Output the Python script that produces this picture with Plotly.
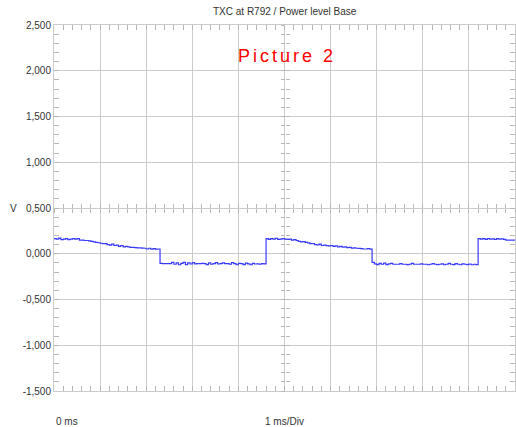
import numpy as np
import plotly.graph_objects as go

# Scope capture: TXC at R792, sampled every 0.05 ms over 10 divisions (1 ms/Div)
SAMPLE_MS = 0.05

# high phase 1 (0.00 .. 2.25 ms)
high_1 = [0.165, 0.160, 0.170, 0.155, 0.160, 0.165, 0.155, 0.160, 0.165, 0.160,
          0.165, 0.150, 0.150, 0.145, 0.145, 0.140, 0.135, 0.130, 0.125, 0.120,
          0.115, 0.110, 0.110, 0.100, 0.095, 0.105, 0.090, 0.095, 0.080, 0.090,
          0.075, 0.080, 0.075, 0.070, 0.070, 0.068, 0.065, 0.065, 0.062, 0.060,
          0.052, 0.060, 0.050, 0.055, 0.050, 0.052]
# low phase 1 (2.30 .. 4.55 ms)
low_1 = [-0.105, -0.108, -0.108, -0.108, -0.108, -0.095, -0.115, -0.100, -0.120, -0.105,
         -0.095, -0.118, -0.100, -0.112, -0.098, -0.110, -0.108, -0.108, -0.105, -0.108,
         -0.118, -0.100, -0.115, -0.108, -0.098, -0.112, -0.108, -0.100, -0.108, -0.108,
         -0.115, -0.098, -0.108, -0.120, -0.105, -0.108, -0.118, -0.102, -0.110, -0.120,
         -0.105, -0.112, -0.110, -0.115, -0.108, -0.110]
# high phase 2 (4.60 .. 6.85 ms)
high_2 = [0.165, 0.158, 0.165, 0.160, 0.168, 0.158, 0.160, 0.165, 0.160, 0.158,
          0.160, 0.150, 0.155, 0.145, 0.135, 0.130, 0.132, 0.125, 0.118, 0.110,
          0.112, 0.100, 0.098, 0.105, 0.090, 0.095, 0.088, 0.085, 0.090, 0.080,
          0.085, 0.075, 0.080, 0.072, 0.075, 0.068, 0.070, 0.062, 0.065, 0.060,
          0.058, 0.055, 0.052, 0.052, 0.055, 0.050]
# low phase 2 (6.90 .. 9.15 ms)
low_2 = [-0.095, -0.110, -0.118, -0.105, -0.115, -0.102, -0.118, -0.110, -0.105, -0.115,
         -0.115, -0.115, -0.108, -0.115, -0.115, -0.118, -0.115, -0.105, -0.115, -0.115,
         -0.115, -0.110, -0.115, -0.115, -0.120, -0.115, -0.108, -0.115, -0.118, -0.115,
         -0.110, -0.120, -0.115, -0.105, -0.115, -0.118, -0.108, -0.115, -0.120, -0.110,
         -0.115, -0.118, -0.112, -0.120, -0.115, -0.118]
# high phase 3 (9.20 .. 10.00 ms)
high_3 = [0.165, 0.160, 0.165, 0.158, 0.165, 0.160, 0.162, 0.158, 0.165, 0.160,
          0.162, 0.158, 0.148, 0.148, 0.150, 0.148, 0.148]

volts = high_1 + low_1 + high_2 + low_2 + high_3
time_ms = np.arange(len(volts)) * SAMPLE_MS

y_ticks = [-1.5, -1.0, -0.5, 0.0, 0.5, 1.0, 1.5, 2.0, 2.5]
y_tick_text = ["-1,500", "-1,000", "-0,500", "0,000", "0,500",
               "1,000", "1,500", "2,000", "2,500"]
x_ticks = list(range(0, 11))

GRID = "#cccccc"
TICK = "#b8b8b8"
LABEL = "#333333"
FONT = "Liberation Sans"

fig = go.Figure()
fig.add_trace(go.Scatter(
    x=time_ms, y=volts, mode="lines",
    line=dict(color="#3a3aff", width=1.2, shape="hv"),
    showlegend=False, hoverinfo="skip",
))
# helper traces so the centre-line tick axes are rendered
for xa, ya in [("x2", "y"), ("x3", "y"), ("x", "y2"), ("x", "y3")]:
    fig.add_trace(go.Scatter(x=[None], y=[None], xaxis=xa, yaxis=ya,
                             showlegend=False, hoverinfo="skip"))

fig.update_layout(
    width=516, height=427,
    margin=dict(l=54, r=1, t=25, b=36),
    paper_bgcolor="white", plot_bgcolor="white",
    font=dict(family=FONT, size=10, color=LABEL),
    xaxis=dict(
        range=[0, 10], tickvals=x_ticks, showticklabels=False,
        showgrid=True, gridcolor=GRID, gridwidth=1, zeroline=False,
        showline=True, linecolor=GRID, linewidth=1, mirror="ticks",
        ticks="inside", ticklen=5, tickcolor=TICK,
        minor=dict(dtick=0.2, ticks="inside", ticklen=5, tickcolor=TICK, showgrid=False),
    ),
    yaxis=dict(
        range=[-1.5, 2.5], tickvals=y_ticks, ticktext=y_tick_text,
        showgrid=True, gridcolor=GRID, gridwidth=1, zeroline=False,
        showline=True, linecolor=GRID, linewidth=1, mirror="ticks",
        ticks="inside", ticklen=5, tickcolor=TICK,
        minor=dict(dtick=0.1, ticks="inside", ticklen=5, tickcolor=TICK, showgrid=False),
        tickfont=dict(family=FONT, size=10, color=LABEL),
    ),
    # tick marks crossing the centre horizontal line
    xaxis2=dict(overlaying="x", anchor="free", position=0.5, range=[0, 10],
                showgrid=False, zeroline=False, showline=False, showticklabels=False,
                tickvals=x_ticks, ticks="outside", ticklen=4, tickcolor=TICK,
                minor=dict(dtick=0.2, ticks="outside", ticklen=4, tickcolor=TICK)),
    xaxis3=dict(overlaying="x", anchor="free", position=0.5, range=[0, 10],
                showgrid=False, zeroline=False, showline=False, showticklabels=False,
                tickvals=x_ticks, ticks="inside", ticklen=4, tickcolor=TICK,
                minor=dict(dtick=0.2, ticks="inside", ticklen=4, tickcolor=TICK)),
    # tick marks crossing the centre vertical line
    yaxis2=dict(overlaying="y", anchor="free", position=0.5, range=[-1.5, 2.5],
                showgrid=False, zeroline=False, showline=False, showticklabels=False,
                tickvals=y_ticks, ticks="outside", ticklen=4, tickcolor=TICK,
                minor=dict(dtick=0.1, ticks="outside", ticklen=4, tickcolor=TICK)),
    yaxis3=dict(overlaying="y", anchor="free", position=0.5, range=[-1.5, 2.5],
                showgrid=False, zeroline=False, showline=False, showticklabels=False,
                tickvals=y_ticks, ticks="inside", ticklen=4, tickcolor=TICK,
                minor=dict(dtick=0.1, ticks="inside", ticklen=4, tickcolor=TICK)),
    annotations=[
        dict(text="TXC at R792 / Power level Base", xref="paper", yref="paper",
             x=0.5, y=1.038, xanchor="center", yanchor="middle", showarrow=False,
             font=dict(family=FONT, size=10, color=LABEL)),
        dict(text='<span style="letter-spacing:3px">Picture 2</span>',
             xref="paper", yref="paper", x=0.505, y=0.914,
             xanchor="center", yanchor="middle", showarrow=False,
             font=dict(family=FONT, size=18, color="#ff0000")),
        dict(text="V", xref="paper", yref="paper", x=-0.087, y=0.5,
             xanchor="center", yanchor="middle", showarrow=False,
             font=dict(family=FONT, size=10, color=LABEL)),
        dict(text="0 ms", xref="paper", yref="paper", x=0.0, y=-0.082,
             xanchor="left", yanchor="middle", showarrow=False,
             font=dict(family=FONT, size=10, color=LABEL)),
        dict(text="1 ms/Div", xref="paper", yref="paper", x=0.501, y=-0.082,
             xanchor="center", yanchor="middle", showarrow=False,
             font=dict(family=FONT, size=10, color=LABEL)),
    ],
)

fig.write_html("out.html")
